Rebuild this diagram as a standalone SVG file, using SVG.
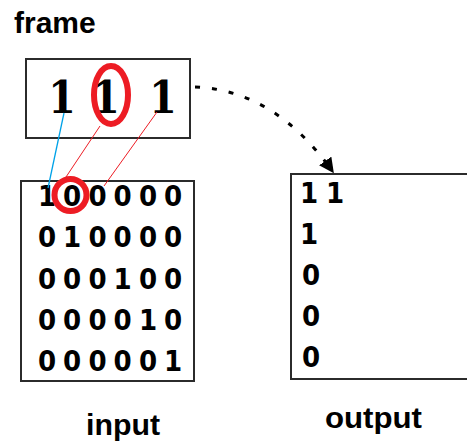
<svg xmlns="http://www.w3.org/2000/svg" width="467" height="441" viewBox="0 0 467 441">
  <style>
    .box { fill: #ffffff; stroke: #2b2b2b; stroke-width: 2; }
    .lbl { font-family: "Liberation Sans", Arial, sans-serif; font-weight: bold; font-size: 30px; fill: #000; }
    .dig { font-family: "DejaVu Sans Condensed", "DejaVu Sans", sans-serif; font-stretch: condensed; font-weight: bold; font-size: 29px; fill: #000; text-anchor: middle; }
    .big { font-family: "DejaVu Serif Condensed", "DejaVu Serif", serif; font-stretch: condensed; font-weight: bold; font-size: 44px; fill: #000; text-anchor: middle; }
    .mark { fill: none; stroke: #ed1c24; stroke-width: 6; }
    .red { stroke: #ed1c24; stroke-width: 1; fill: none; }
    .blue { stroke: #00a2e8; stroke-width: 1.3; fill: none; }
    .flow { fill: none; stroke: #000; stroke-width: 3; stroke-dasharray: 5 12; }
  </style>
  <defs>
    <marker id="head" viewBox="0 0 10 10" refX="9" refY="5" markerWidth="5" markerHeight="5" orient="auto" markerUnits="strokeWidth">
      <path d="M0,0 L10,5 L0,10 Z" fill="#000"/>
    </marker>
  </defs>

  <text class="lbl" x="14" y="33">frame</text>

  <g id="frame">
    <rect class="box" x="26" y="59" width="164" height="79"/>
    <text class="big" x="62" y="113">1</text>
    <text class="big" x="106" y="113">1</text>
    <text class="big" x="163" y="113">1</text>
    <ellipse class="mark" cx="111" cy="95" rx="17" ry="29"/>
  </g>

  <g id="input">
    <rect class="box" x="21" y="181" width="173" height="200"/>
    <g>
      <text class="dig" x="47" y="206">1</text>
      <text class="dig" x="72" y="206">0</text>
      <text class="dig" x="97.5" y="206">0</text>
      <text class="dig" x="122.5" y="206">0</text>
      <text class="dig" x="148" y="206">0</text>
      <text class="dig" x="173" y="206">0</text>
    </g>
    <g>
      <text class="dig" x="47" y="247">0</text>
      <text class="dig" x="72" y="247">1</text>
      <text class="dig" x="97.5" y="247">0</text>
      <text class="dig" x="122.5" y="247">0</text>
      <text class="dig" x="148" y="247">0</text>
      <text class="dig" x="173" y="247">0</text>
    </g>
    <g>
      <text class="dig" x="47" y="288.5">0</text>
      <text class="dig" x="72" y="288.5">0</text>
      <text class="dig" x="97.5" y="288.5">0</text>
      <text class="dig" x="122.5" y="288.5">1</text>
      <text class="dig" x="148" y="288.5">0</text>
      <text class="dig" x="173" y="288.5">0</text>
    </g>
    <g>
      <text class="dig" x="47" y="329.5">0</text>
      <text class="dig" x="72" y="329.5">0</text>
      <text class="dig" x="97.5" y="329.5">0</text>
      <text class="dig" x="122.5" y="329.5">0</text>
      <text class="dig" x="148" y="329.5">1</text>
      <text class="dig" x="173" y="329.5">0</text>
    </g>
    <g>
      <text class="dig" x="47" y="371">0</text>
      <text class="dig" x="72" y="371">0</text>
      <text class="dig" x="97.5" y="371">0</text>
      <text class="dig" x="122.5" y="371">0</text>
      <text class="dig" x="148" y="371">0</text>
      <text class="dig" x="173" y="371">1</text>
    </g>
    <circle class="mark" cx="70.5" cy="195" r="16"/>
  </g>

  <g id="output">
    <rect class="box" x="291" y="174" width="190" height="205"/>
    <text class="dig" x="309" y="203">1</text>
    <text class="dig" x="335" y="203">1</text>
    <text class="dig" x="309" y="244">1</text>
    <text class="dig" x="311" y="285">0</text>
    <text class="dig" x="311" y="326">0</text>
    <text class="dig" x="311" y="367">0</text>
  </g>

  <text class="lbl" x="86" y="435" textLength="74" lengthAdjust="spacingAndGlyphs">input</text>
  <text class="lbl" x="325" y="428" textLength="97" lengthAdjust="spacingAndGlyphs">output</text>

  <g id="connectors">
    <line class="blue" x1="64" y1="113" x2="48" y2="188"/>
    <line class="red" x1="100" y1="126" x2="66" y2="177"/>
    <line class="red" x1="157" y1="112" x2="104" y2="186"/>
    <path class="flow" d="M195,87 Q275,90 333,172" marker-end="url(#head)"/>
  </g>
</svg>
